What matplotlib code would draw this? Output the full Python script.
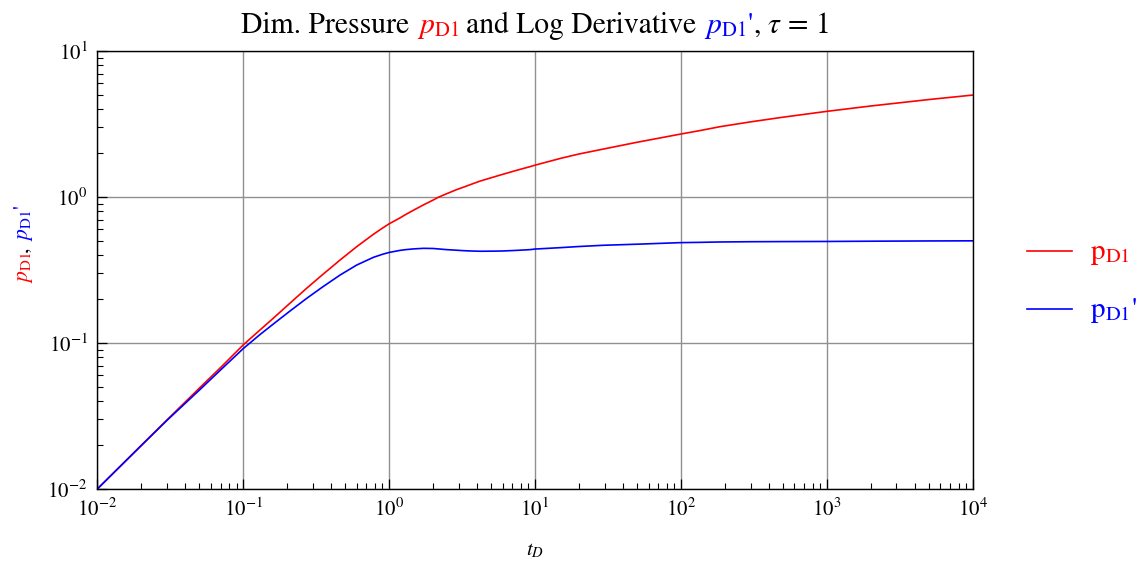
import matplotlib
matplotlib.use("Agg")
import matplotlib.pyplot as plt
from matplotlib.lines import Line2D
import numpy as np

# ---------------- data ----------------
t_D = [0.01, 0.02, 0.03, 0.05, 0.07, 0.1, 0.13, 0.161, 0.21, 0.272, 0.35,
       0.461, 0.6, 0.78, 0.9, 1.0, 1.19, 1.3, 1.47, 1.72, 2.0, 2.17, 2.48,
       2.9, 3.23, 3.6, 4.2, 5.46, 6.07, 7.5, 9.25, 10.0, 15.0, 20.0, 29.4,
       50.0, 100.0, 135.0, 185.0, 300.0, 500.0, 1000.0, 2000.0, 5000.0,
       10000.0]
p_D1 = [0.01, 0.0199, 0.0297, 0.049, 0.0679, 0.097, 0.1225, 0.148, 0.188,
        0.237, 0.294, 0.37, 0.457, 0.555, 0.612, 0.655, 0.72, 0.759, 0.812,
        0.883, 0.952, 0.995, 1.053, 1.123, 1.167, 1.215, 1.285, 1.39, 1.434,
        1.524, 1.614, 1.652, 1.84, 1.97, 2.13, 2.37, 2.70, 2.85, 3.03, 3.27,
        3.52, 3.86, 4.2, 4.65, 4.99]
p_D1_deriv = [0.01, 0.0198, 0.0295, 0.0475, 0.0654, 0.0915, 0.114, 0.135,
              0.166, 0.202, 0.242, 0.292, 0.342, 0.386, 0.405, 0.417, 0.431,
              0.436, 0.441, 0.445, 0.444, 0.441, 0.436, 0.432, 0.429, 0.427,
              0.425, 0.426, 0.427, 0.431, 0.436, 0.44, 0.45, 0.458, 0.467,
              0.475, 0.487, 0.489, 0.492, 0.494, 0.495, 0.496, 0.498, 0.5,
              0.501]

title_pieces = [("Dim. Pressure", "black", True),
                (r"$p_{\mathrm{D1}}$", "red", True),
                ("and Log Derivative", "black", True),
                (r"$p_{\mathrm{D1}}$'", "blue", False),
                (r", $\tau$ = 1", "black", False)]
ylabel_pieces = [(r"$p_{\mathrm{D1}}$", "red", False),
                 (",", "black", True),
                 (r"$p_{\mathrm{D1}}$'", "blue", False)]
legend_labels = [r"$\mathrm{p}_{\mathrm{D1}}$", r"$\mathrm{p}_{\mathrm{D1}}$'"]
series_colors = ["#ff0000", "#0000ff"]

# ---------------- style ----------------
plt.rcParams["font.family"] = ["STIXGeneral", "DejaVu Serif"]
plt.rcParams["mathtext.fontset"] = "stix"

W, H = 1147, 563
fig = plt.figure(figsize=(W / 100, H / 100), dpi=100)
ax = fig.add_axes([97.3 / W, 1 - 489 / H, (972.7 - 97.3) / W, (489 - 51) / H])

ax.plot(t_D, p_D1, color=series_colors[0], lw=1.2)
ax.plot(t_D, p_D1_deriv, color=series_colors[1], lw=1.2)

ax.set_xscale("log")
ax.set_yscale("log")
ax.set_xlim(1e-2, 1e4)
ax.set_ylim(1e-2, 1e1)
ax.set_xticks([10.0 ** k for k in range(-2, 5)])
ax.set_yticks([10.0 ** k for k in range(-2, 2)])
ax.xaxis.set_minor_locator(matplotlib.ticker.LogLocator(base=10, subs=np.arange(2, 10), numticks=20))
ax.yaxis.set_minor_locator(matplotlib.ticker.LogLocator(base=10, subs=np.arange(2, 10), numticks=20))
ax.xaxis.set_minor_formatter(matplotlib.ticker.NullFormatter())
ax.yaxis.set_minor_formatter(matplotlib.ticker.NullFormatter())
ax.tick_params(which="major", direction="in", length=7, width=0.9, labelsize=15, pad=7)
ax.tick_params(which="minor", direction="in", length=4, width=0.8)
ax.grid(True, which="major", color="#909090", lw=1.0)
for s in ax.spines.values():
    s.set_linewidth(1.0)

ax.set_xlabel(r"$t_D$", fontsize=15, labelpad=14)

fig.canvas.draw()
renderer = fig.canvas.get_renderer()


def space_width(fs):
    a = fig.text(0, 0, "x x", fontsize=fs)
    b = fig.text(0, 0, "xx", fontsize=fs)
    w = a.get_window_extent(renderer).width - b.get_window_extent(renderer).width
    a.remove(); b.remove()
    return w


def rich_horizontal(pieces, xc_px, yb_px, fs):
    sw = space_width(fs)
    texts, widths = [], []
    for s, c, gap in pieces:
        t = fig.text(0, 0, s, color=c, fontsize=fs, ha="left", va="baseline")
        texts.append((t, gap))
        widths.append(t.get_window_extent(renderer).width)
    total = sum(widths) + sw * sum(1 for _, _, g in pieces if g)
    x = xc_px - total / 2
    for (t, gap), w in zip(texts, widths):
        t.set_position((x / W, 1 - yb_px / H))
        x += w + (sw if gap else 0)


def rich_vertical(pieces, xb_px, ybot_px, fs):
    sw = space_width(fs)
    y = ybot_px
    for s, c, gap in pieces:
        t = fig.text(0, 0, s, color=c, fontsize=fs, ha="left", va="baseline",
                     rotation=90, rotation_mode="anchor")
        h = t.get_window_extent(renderer).height
        t.set_position((xb_px / W, 1 - y / H))
        y -= h + (sw if gap else 0)


rich_horizontal(title_pieces, 535, 33, 21.3)
rich_vertical(ylabel_pieces, 28, 283, 15.5)

# legend drawn outside the axes on the right
for i, (lab, col) in enumerate(zip(legend_labels, series_colors)):
    yl = 251 + i * 58
    fig.add_artist(Line2D([1027 / W, 1072 / W], [1 - yl / H, 1 - yl / H], color=col, lw=1.2))
    fig.text(1090 / W, 1 - (yl + 8) / H, lab, color=col, fontsize=21, ha="left", va="baseline")

fig.savefig("out.png", dpi=100)
